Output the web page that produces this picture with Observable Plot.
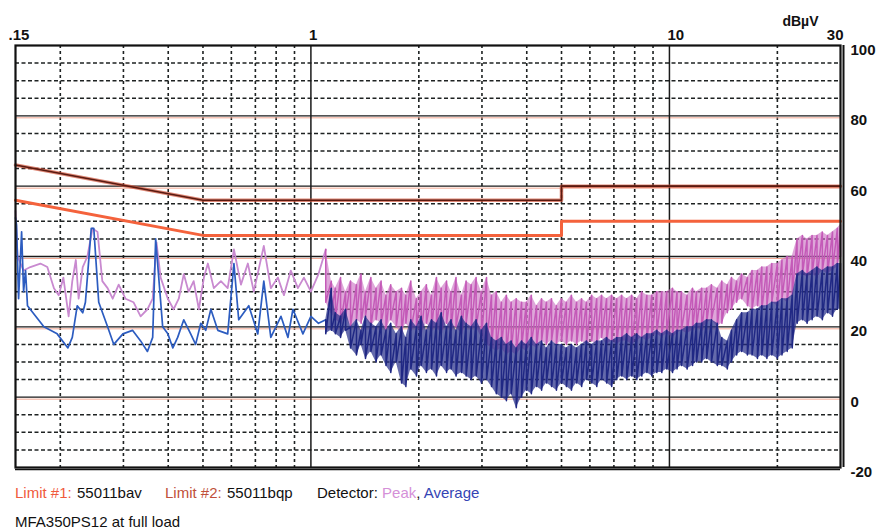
<!DOCTYPE html>
<html><head><meta charset="utf-8">
<script src="https://cdn.jsdelivr.net/npm/d3@7"></script>
<script src="https://cdn.jsdelivr.net/npm/@observablehq/plot@0.6"></script>
<style>
body{margin:0;background:#fff;}
#wrap{position:relative;width:882px;height:531px;overflow:hidden;font-family:"Liberation Sans",Arial,sans-serif;background:#fff;}
.lg{position:absolute;font-size:15px;line-height:15px;white-space:nowrap;color:#111;}
</style></head><body>
<div id="wrap"><div id="chart"></div>
<div class="lg" style="left:15px;top:485px;color:#f05a3c">Limit #1:</div>
<div class="lg" style="left:77px;top:485px">55011bav</div>
<div class="lg" style="left:165px;top:485px;color:#c0503a">Limit #2:</div>
<div class="lg" style="left:227px;top:485px">55011bqp</div>
<div class="lg" style="left:317px;top:485px">Detector: <span style="color:#d590d8">Peak</span>, <span style="color:#3444b4">Average</span></div>
<div class="lg" style="left:15px;top:514px">MFA350PS12 at full load</div>
</div>
<script>
// Limit lines (EN 55011 class B)
const limitFreq = [0.15, 0.5, 5, 5, 30];
const limit1Db = [56, 46, 46, 50, 50]; // average
const limit2Db = [66, 56, 56, 60, 60]; // quasi-peak

// Low-frequency traces [MHz, dBµV]
const lowPeak = [[0.150,53],[0.152,40],[0.158,36],[0.165,37],[0.176,38],[0.184,37],[0.192,31],[0.198,29],[0.204,34],[0.211,23],[0.216,33],[0.221,39],[0.225,28],[0.231,37],[0.238,40],[0.246,48],[0.254,47],[0.262,33],[0.271,31],[0.280,28],[0.291,32],[0.304,28],[0.320,27],[0.335,23],[0.350,25],[0.362,28],[0.371,44],[0.381,34],[0.399,28],[0.414,25],[0.428,28],[0.442,35],[0.456,30],[0.471,33],[0.487,25],[0.503,34],[0.516,38],[0.536,31],[0.561,33],[0.586,31],[0.610,42],[0.638,32],[0.667,38],[0.693,30],[0.739,43],[0.773,31],[0.809,34],[0.841,29],[0.879,36],[0.920,31],[0.956,34],[1.00,30],[1.05,35]];
const lowAvg = [[0.150,51],[0.151,49],[0.153,28],[0.156,47],[0.158,30],[0.160,36],[0.162,26],[0.180,20],[0.196,18],[0.210,14],[0.216,17],[0.223,26],[0.231,24],[0.235,27],[0.244,48],[0.248,48],[0.256,27],[0.271,20],[0.282,15],[0.299,18],[0.318,19],[0.335,16],[0.350,13],[0.362,17],[0.369,45],[0.386,20],[0.399,18],[0.412,14],[0.425,17],[0.442,22],[0.462,18],[0.477,15],[0.493,21],[0.509,19],[0.526,25],[0.550,19],[0.586,18],[0.610,38],[0.629,22],[0.671,26],[0.711,18],[0.739,33],[0.773,17],[0.825,23],[0.863,17],[0.891,25],[0.950,18],[1.00,23],[1.05,21]];

// Dense scan region: frequency and high/low excursions
const scanFreq = [1.10,1.14,1.17,1.21,1.25,1.29,1.34,1.38,1.42,1.47,
 1.52,1.57,1.62,1.67,1.73,1.79,1.84,1.90,1.97,2.03,
 2.10,2.17,2.24,2.31,2.39,2.46,2.54,2.63,2.71,2.80,
 2.89,2.99,3.09,3.19,3.29,3.40,3.51,3.62,3.74,3.87,
 3.99,4.12,4.26,4.40,4.54,4.69,4.84,5.00,5.16,5.33,
 5.51,5.69,5.87,6.07,6.27,6.47,6.68,6.90,7.13,7.36,
 7.60,7.85,8.11,8.37,8.65,8.93,9.22,9.52,9.83,10.2,
 10.5,10.8,11.2,11.6,11.9,12.3,12.7,13.1,13.6,14.0,
 14.5,14.9,15.4,15.9,16.5,17.0,17.6,18.1,18.7,19.3,
 20.0,20.6,21.3,22.0,22.7,23.5,24.2,25.0,25.8,26.7,
 27.6,28.5,29.4,30.0];
const peakHi = [42,33,31,34,30,33,32,35,30,34,
 31,33,29,32,30,31,29,33,28,30,
 32,29,34,31,33,30,34,29,33,32,
 34,30,34,29,30,27,29,27,28,27,
 27,29,26,28,27,28,26,28,27,29,
 27,28,27,29,28,29,28,29,28,29,
 28,29,28,30,29,29,30,30,30,31,
 30,30,29,31,30,31,31,32,31,33,
 32,34,33,35,34,36,36,37,37,38,
 38,39,40,40,45,46,45,46,46,47,
 46,47,48,49];
const peakLo = [27,24,22,21,23,20,22,21,23,20,
 22,21,19,22,20,18,21,19,20,18,
 21,19,20,18,21,19,20,18,21,19,
 20,17,15,14,13,14,12,13,12,14,
 13,15,14,16,15,16,15,16,15,16,
 15,16,15,16,15,17,15,16,15,16,
 16,15,16,17,16,17,18,17,18,17,
 18,19,18,19,20,19,21,22,20,21,
 24,25,27,28,26,25,26,25,26,27,
 26,28,27,29,34,35,34,35,34,36,
 35,36,37,40];
const avgHi = [22,31,24,23,25,20,22,19,23,21,
 20,22,19,21,18,20,17,22,20,23,
 19,22,21,24,20,22,19,23,21,20,
 22,19,21,17,16,17,15,16,14,16,
 15,17,15,16,14,16,15,15,14,15,
 14,15,16,15,16,16,17,16,17,17,
 18,17,18,17,18,18,19,18,19,18,
 19,19,20,20,21,21,22,22,21,17,
 16,19,22,24,24,25,25,26,26,27,
 27,28,28,29,35,36,35,36,37,36,
 37,37,38,38];
const avgLo = [18,19,18,17,19,14,12,15,11,13,
 10,12,9,7,10,4,3,8,6,9,
 7,8,6,9,7,8,6,7,6,5,
 6,4,5,3,1,0,-1,1,-3,0,
 2,1,3,2,4,3,2,4,3,2,
 4,3,5,4,3,5,4,3,5,6,
 5,6,5,6,7,6,7,7,8,7,
 8,9,8,9,10,10,11,10,9,9,
 8,10,12,13,12,12,11,12,11,12,
 11,12,13,14,21,22,21,22,23,22,
 24,23,25,25];

// Axes
const xLabelValues = [0.15, 1, 10, 30];
const xLabelTexts = [".15", "1", "10", "30"];
const yLabelValues = [100, 80, 60, 40, 20, 0, -20];
const majorY = [0, 20, 40, 60, 80];
const minorY = [-15,-10,-5,5,10,15,25,30,35,45,50,55,65,70,75,85,90,95];
const majorX = [1, 10];
const minorX = [0.2,0.3,0.4,0.5,0.6,0.7,0.8,0.9,2,3,4,5,6,7,8,9,20];

const limit1 = limitFreq.map((f, i) => ({f, v: limit1Db[i]}));
const limit2 = limitFreq.map((f, i) => ({f, v: limit2Db[i]}));
const lowPeakT = lowPeak.map(([f, v]) => ({f, v})).concat([{f: scanFreq[0], v: peakHi[0]}]);
const lowAvgT = lowAvg.map(([f, v]) => ({f, v})).concat([{f: scanFreq[0], v: avgHi[0]}]);
const scanPeakT = scanFreq.flatMap((f, i) => [{f, v: peakHi[i]}, {f, v: peakLo[i]}]);
const scanAvgT = scanFreq.flatMap((f, i) => [{f, v: avgHi[i]}, {f, v: avgLo[i]}]);
const scanBand = scanFreq.map((f, i) => ({f, pH: peakHi[i], pL: peakLo[i], aH: avgHi[i], aL: avgLo[i]}));
const xLabels = xLabelValues.map((x, i) => ({x, t: xLabelTexts[i]}));

const bold = {fontWeight: "bold", fontSize: 15, fill: "#111"};

const chart = Plot.plot({
  width: 882, height: 482,
  marginLeft: 15, marginRight: 42, marginTop: 45, marginBottom: 15,
  x: {type: "log", domain: [0.15, 30], axis: null},
  y: {domain: [-20, 100], axis: null},
  style: {fontFamily: "'Liberation Sans', Arial, sans-serif", background: "transparent", overflow: "visible"},
  marks: [
    Plot.ruleY(minorY, {stroke: "#1e2222", strokeWidth: 1.5, strokeDasharray: "4,2.5"}),
    Plot.ruleX(minorX, {stroke: "#1e2222", strokeWidth: 1.6, strokeDasharray: "3,3"}),
    Plot.ruleY(majorY, {stroke: "#f3a994", strokeWidth: 1, dy: 2}),
    Plot.ruleY(majorY, {stroke: "#1a1a1a", strokeWidth: 1.3}),
    Plot.ruleX(majorX, {stroke: "#1a1a1a", strokeWidth: 1.5}),
    Plot.line(limit2, {x: "f", y: "v", stroke: "#d0543a", strokeWidth: 3.5, strokeOpacity: 0.7}),
    Plot.line(limit2, {x: "f", y: "v", stroke: "#5a1a10", strokeWidth: 1.6}),
    Plot.line(limit1, {x: "f", y: "v", stroke: "#f4623c", strokeWidth: 3}),
    Plot.line(lowPeakT, {x: "f", y: "v", stroke: "#c98ad0", strokeWidth: 1.8}),
    Plot.areaY(scanBand, {x: "f", y1: "pL", y2: "pH", fill: "#c86cc0", fillOpacity: 0.6}),
    Plot.line(scanPeakT, {x: "f", y: "v", stroke: "#c45ab8", strokeWidth: 1.5}),
    Plot.line(lowAvgT, {x: "f", y: "v", stroke: "#2c5cc0", strokeWidth: 1.7}),
    Plot.areaY(scanBand, {x: "f", y1: "aL", y2: "aH", fill: "#222b88", fillOpacity: 0.7}),
    Plot.line(scanAvgT, {x: "f", y: "v", stroke: "#202884", strokeWidth: 1.5}),
    Plot.frame({stroke: "#111", strokeWidth: 2.2}),
    Plot.ruleX([30], {stroke: "#111", strokeWidth: 2, dx: 3}),
    Plot.ruleY([-20], {stroke: "#111", strokeWidth: 1.5, dy: 2}),
    Plot.text(xLabels.slice(0, 1), {x: "x", text: "t", frameAnchor: "top", textAnchor: "start", lineAnchor: "bottom", dx: -7, dy: -6, ...bold}),
    Plot.text(xLabels.slice(1, 3), {x: "x", text: "t", frameAnchor: "top", textAnchor: "start", lineAnchor: "bottom", dx: -2, dy: -6, ...bold}),
    Plot.text(xLabels.slice(3), {x: "x", text: "t", frameAnchor: "top", textAnchor: "end", lineAnchor: "bottom", dx: 3, dy: -6, ...bold}),
    Plot.text(["dBµV"], {frameAnchor: "top-right", textAnchor: "end", lineAnchor: "bottom", dx: -22, dy: -20, ...bold, fontSize: 14}),
    Plot.text(yLabelValues, {y: d => d, text: d => String(d), frameAnchor: "right", textAnchor: "start", lineAnchor: "top", dx: 10, dy: -1, ...bold})
  ]
});
document.getElementById("chart").appendChild(chart);
</script>
</body></html>
